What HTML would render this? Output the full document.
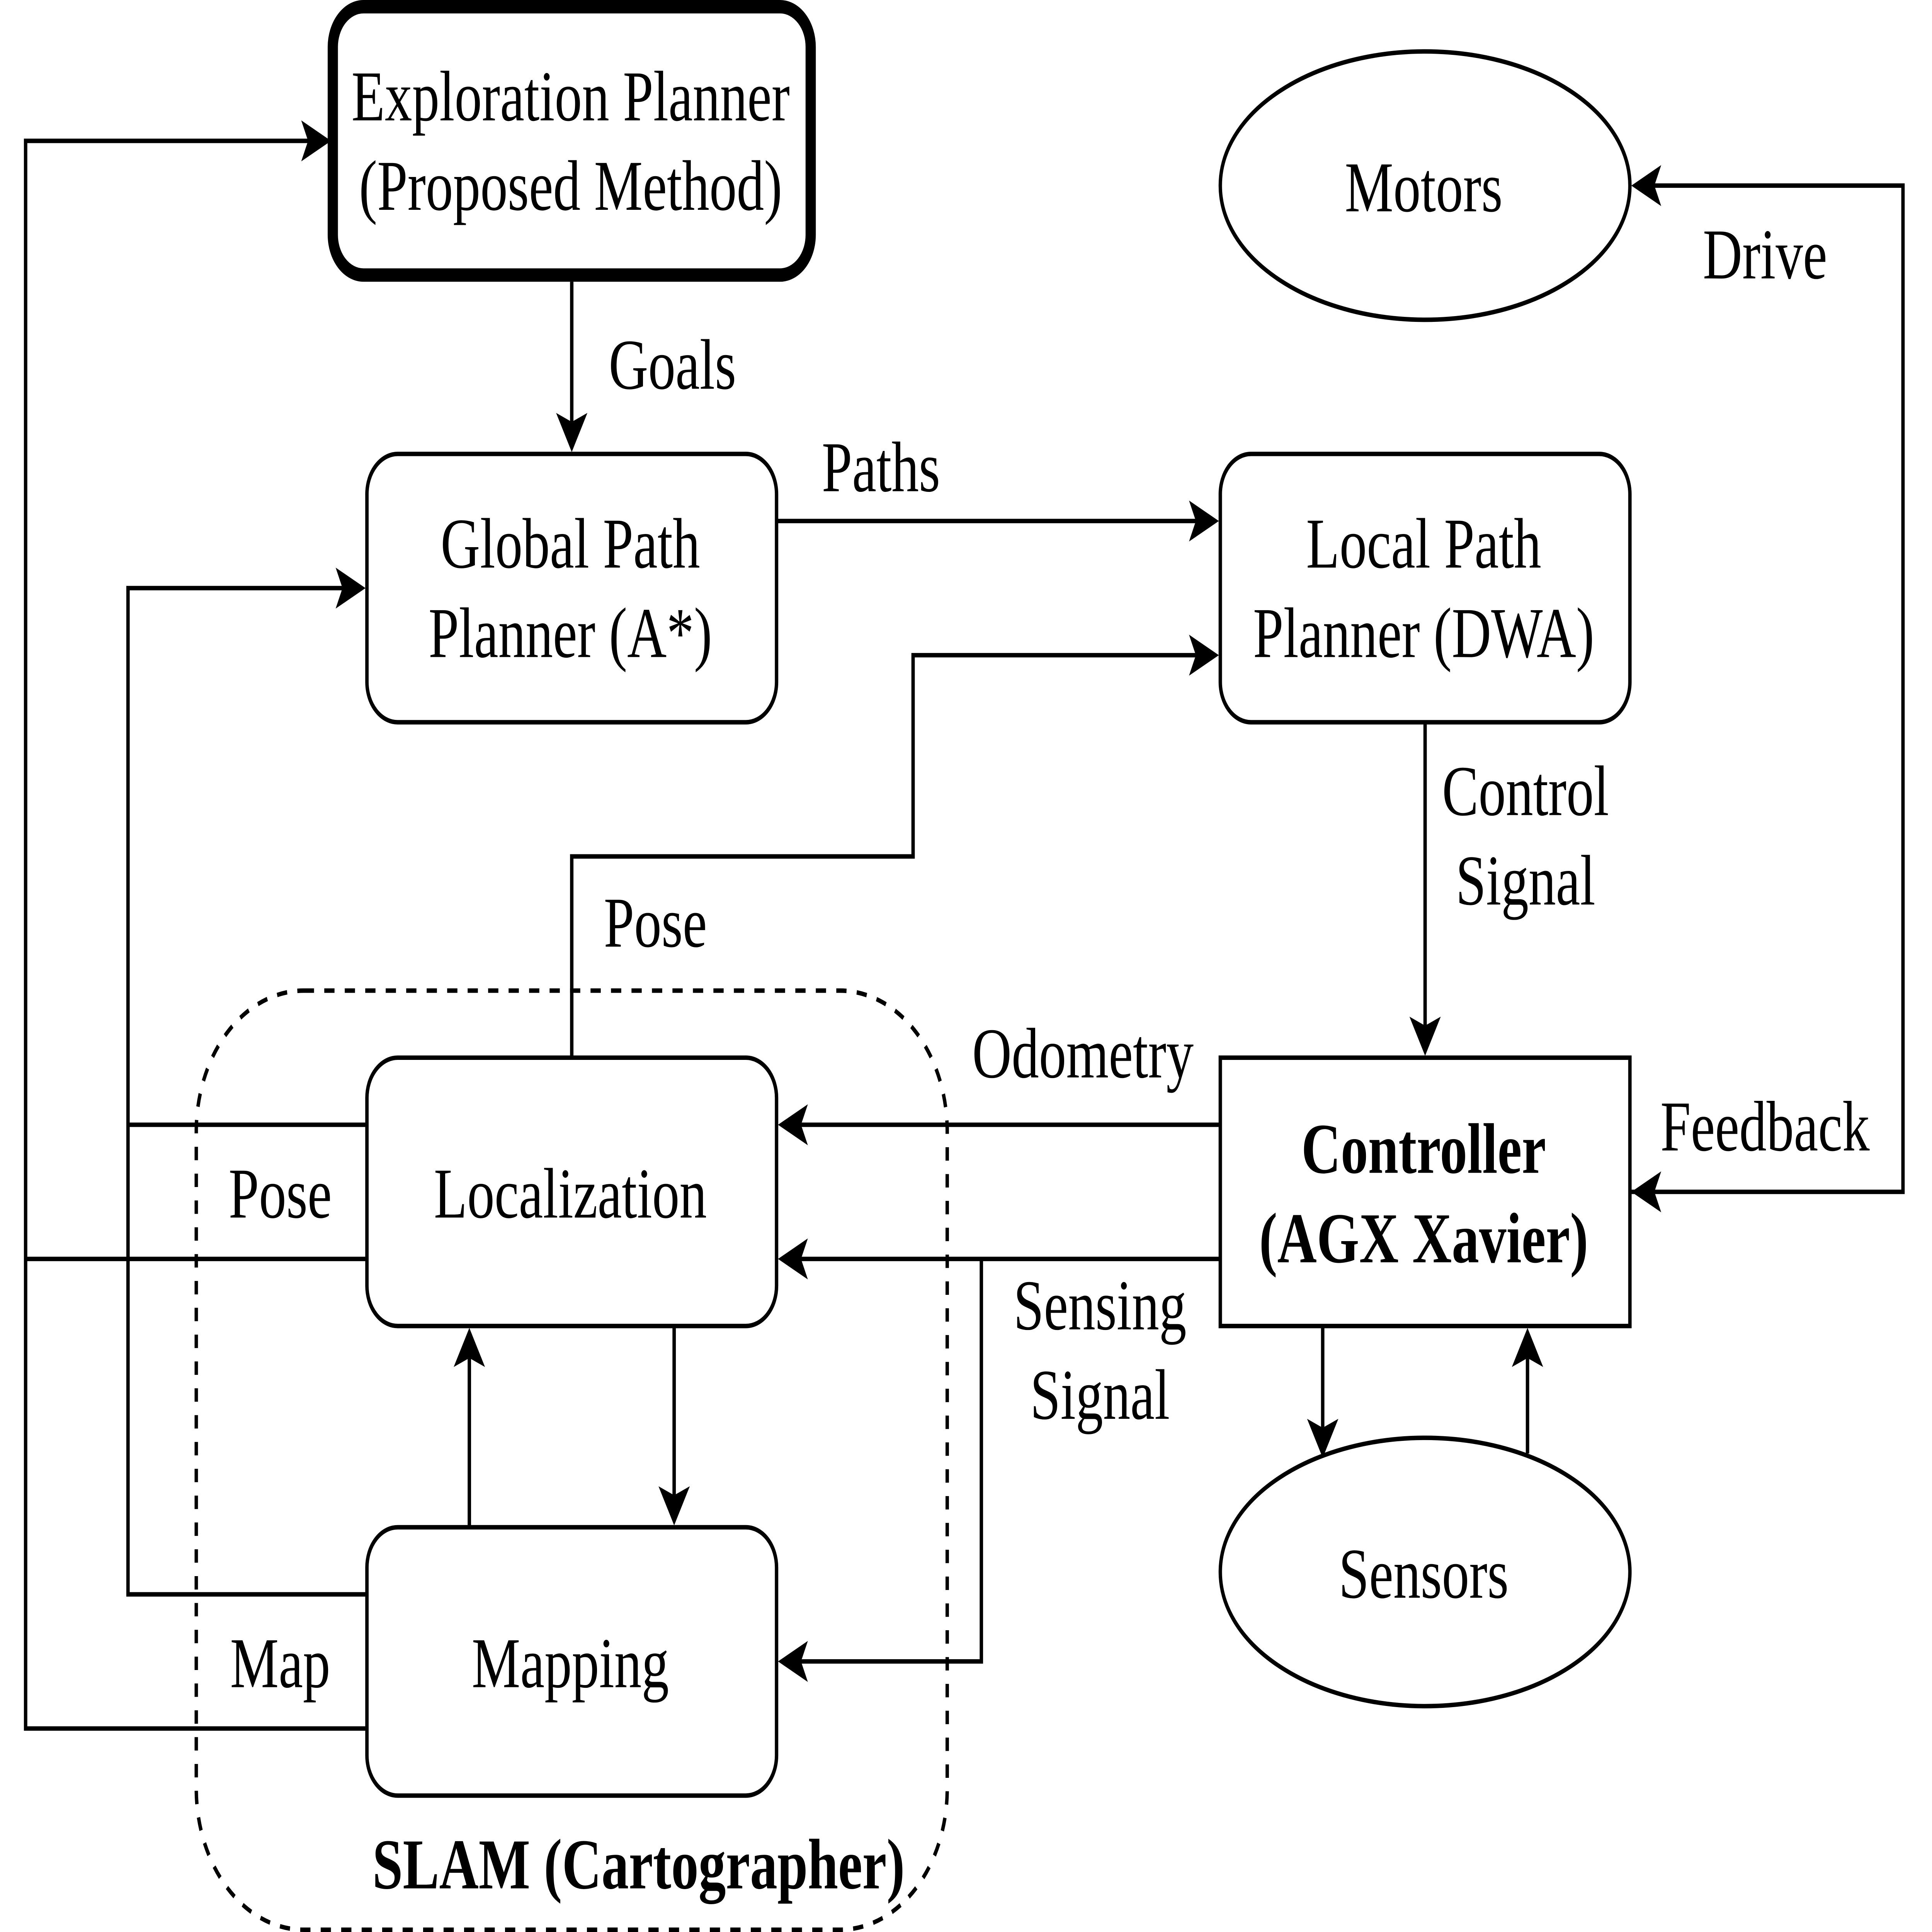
<!DOCTYPE html>
<html>
<head>
<meta charset="utf-8">
<style>
html,body{margin:0;padding:0;background:#fff;width:100%;height:100%;overflow:hidden}
svg{display:block;position:fixed;left:0;top:0;width:100vw;height:100vh}
text{font-family:"Liberation Serif","Times New Roman",serif;font-size:192px;fill:#000;text-anchor:middle}
.b{font-weight:bold}
</style>
</head>
<body>
<svg xmlns="http://www.w3.org/2000/svg" viewBox="0 0 6792 5184" preserveAspectRatio="none">
<rect width="6792" height="5184" fill="#fff"/>
<g fill="none" stroke="#000" stroke-width="12">
<path d="M1290 3378H90M1290 4638H90V378H1100"/>
<path d="M1290 3018H450M1290 4278H450V1578H1210"/>
<path d="M2010 756V1140"/>
<path d="M2730 1398H4210"/>
<path d="M2010 2838V2298H3210V1758H4210"/>
<path d="M5010 1938V2760"/>
<path d="M4290 3018H2810M4290 3378H2810M3450 3378V4458H2810"/>
<path d="M5730 3198H6690V498H5810"/>
<path d="M2370 3558V4020M1650 4098V3640"/>
<path d="M4650 3558V3835M5370 3640V3900"/>
<rect x="1170" y="18" width="1680" height="720" rx="108" ry="108" stroke-width="36"/>
<rect x="1290" y="1218" width="1440" height="720" rx="108" ry="108"/>
<rect x="4290" y="1218" width="1440" height="720" rx="108" ry="108"/>
<rect x="1290" y="2838" width="1440" height="720" rx="108" ry="108"/>
<rect x="1290" y="4098" width="1440" height="720" rx="108" ry="108"/>
<rect x="4290" y="2838" width="1440" height="720"/>
<ellipse cx="5010" cy="498" rx="720" ry="360"/>
<ellipse cx="5010" cy="4218" rx="720" ry="360"/>
<path d="M1068 2658H2952A378 378 0 0 1 3330 3036V4800A378 378 0 0 1 2952 5178H1068A378 378 0 0 1 690 4800V3036A378 378 0 0 1 1068 2658Z" stroke-dasharray="36 36"/>
</g>
<g fill="#000">
<polygon points="1164,378 1059,323 1083,378 1059,433"/>
<polygon points="1285,1578 1180,1523 1204,1578 1180,1633"/>
<polygon points="4285,1398 4180,1343 4204,1398 4180,1453"/>
<polygon points="4285,1758 4180,1703 4204,1758 4180,1813"/>
<polygon points="2010,1213 1955,1108 2010,1132 2065,1108"/>
<polygon points="5010,2833 4955,2728 5010,2752 5065,2728"/>
<polygon points="2370,4093 2315,3988 2370,4012 2425,3988"/>
<polygon points="4650,3912 4595,3807 4650,3831 4705,3807"/>
<polygon points="1650,3563 1595,3668 1650,3644 1705,3668"/>
<polygon points="5370,3563 5315,3668 5370,3644 5425,3668"/>
<polygon points="2735,3018 2840,2963 2816,3018 2840,3073"/>
<polygon points="2735,3378 2840,3323 2816,3378 2840,3433"/>
<polygon points="2735,4458 2840,4403 2816,4458 2840,4513"/>
<polygon points="5735,498 5840,443 5816,498 5840,553"/>
<polygon points="5735,3198 5840,3143 5816,3198 5840,3253"/>
</g>
<text x="2006" y="323">Exploration Planner</text>
<text x="2006" y="563">(Proposed Method)</text>
<text x="2005" y="1523">Global Path</text>
<text x="2005" y="1763">Planner (A*)</text>
<text x="5005" y="1523">Local Path</text>
<text x="5005" y="1763">Planner (DWA)</text>
<text x="5005" y="567">Motors</text>
<text x="5005" y="4287">Sensors</text>
<text x="2005" y="3267">Localization</text>
<text x="2005" y="4527">Mapping</text>
<text class="b" x="5005" y="3147">Controller</text>
<text class="b" x="5005" y="3387">(AGX Xavier)</text>
<text x="2364" y="1043">Goals</text>
<text x="3097" y="1318">Paths</text>
<text x="2304" y="2540">Pose</text>
<text x="5363" y="2187">Control</text>
<text x="5363" y="2427">Signal</text>
<text x="6205" y="747">Drive</text>
<text x="3807" y="2891">Odometry</text>
<text x="6205" y="3087">Feedback</text>
<text x="3867" y="3567">Sensing</text>
<text x="3867" y="3807">Signal</text>
<text x="985" y="3267">Pose</text>
<text x="985" y="4527">Map</text>
<text class="b" x="2245" y="5067">SLAM (Cartographer)</text>
</svg>
</body>
</html>
